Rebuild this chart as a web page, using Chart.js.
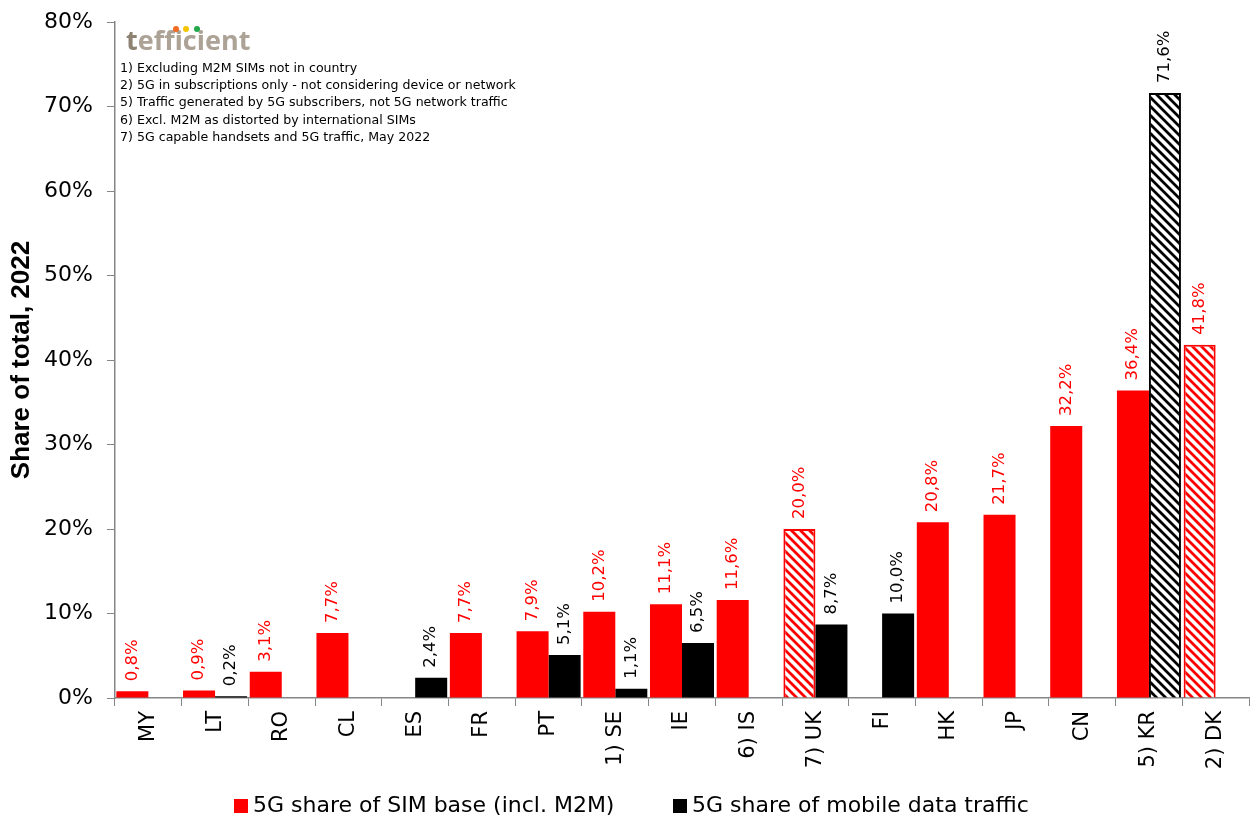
<!DOCTYPE html>
<html>
<head>
<meta charset="utf-8">
<script src="https://cdn.jsdelivr.net/npm/chart.js@4.4.1/dist/chart.umd.min.js"></script>
<style>
  html, body { margin: 0; padding: 0; background: #fff; }
  #wrap { width: 1253px; height: 821px; position: relative; }
</style>
</head>
<body>
<div id="wrap"><canvas id="chart"></canvas></div>
<script>
// data
const categories = ['MY', 'LT', 'RO', 'CL', 'ES', 'FR', 'PT', '1) SE', 'IE', '6) IS', '7) UK', 'FI', 'HK', 'JP', 'CN', '5) KR', '2) DK'];
const simShare = [0.8, 0.9, 3.1, 7.7, null, 7.7, 7.9, 10.2, 11.1, 11.6, 20.0, null, 20.8, 21.7, 32.2, 36.4, 41.8];
const trafficShare = [null, 0.2, null, null, 2.4, null, 5.1, 1.1, 6.5, null, 8.7, 10.0, null, null, null, 71.6, null];
const simHatched = ['7) UK', '2) DK'];
const trafficHatched = ['5) KR'];
const seriesNames = ['5G share of SIM base (incl. M2M)', '5G share of mobile data traffic'];
const yTicks = [0, 10, 20, 30, 40, 50, 60, 70, 80];
const notes = [
    '1) Excluding M2M SIMs not in country',
    '2) 5G in subscriptions only - not considering device or network',
    '5) Traffic generated by 5G subscribers, not 5G network traffic',
    '6) Excl. M2M as distorted by international SIMs',
    '7) 5G capable handsets and 5G traffic, May 2022'
];

const RED = '#ff0000';
const BLACK = '#000000';
const AXIS = '#868686';

// diagonal hatch pattern (white with coloured stripes)
function hatch(color) {
    const n = 9;
    const c = document.createElement('canvas');
    c.width = n; c.height = n;
    const g = c.getContext('2d');
    g.fillStyle = '#fff';
    g.fillRect(0, 0, n, n);
    g.strokeStyle = color;
    g.lineWidth = 2.8;
    g.beginPath();
    g.moveTo(-n, 0); g.lineTo(n, 2 * n);
    g.moveTo(0, 0); g.lineTo(n, n);
    g.moveTo(0, -n); g.lineTo(2 * n, n);
    g.stroke();
    return g.createPattern(c, 'repeat');
}
const redHatch = hatch(RED);
const blackHatch = hatch(BLACK);

const isHatched = (list, ctx) => ctx.type === 'data' && list.includes(categories[ctx.dataIndex]);

// value labels, rotated, above each bar
const valueLabels = {
    id: 'valueLabels',
    afterDatasetsDraw(chart) {
        const ctx = chart.ctx;
        chart.data.datasets.forEach((ds, di) => {
            const meta = chart.getDatasetMeta(di);
            meta.data.forEach((bar, i) => {
                const v = ds.data[i];
                if (v == null) return;
                ctx.save();
                ctx.translate(bar.x, bar.y - 10);
                ctx.rotate(-Math.PI / 2);
                ctx.font = '16.5px "DejaVu Sans"';
                ctx.fillStyle = di === 0 ? RED : BLACK;
                ctx.textAlign = 'left';
                ctx.textBaseline = 'middle';
                ctx.fillText(v.toFixed(1).replace('.', ',') + '%', 0, 0);
                ctx.restore();
            });
        });
    }
};

// logo, footnotes and bottom legend
const extras = {
    id: 'extras',
    afterDraw(chart) {
        const ctx = chart.ctx;
        ctx.save();
        // logo
        ctx.font = 'bold 27px "Open Sans"';
        ctx.textBaseline = 'alphabetic';
        ctx.textAlign = 'left';
        ctx.fillStyle = '#8e8373';
        ctx.fillText('t', 126, 50);
        const tw = ctx.measureText('t').width;
        ctx.fillStyle = '#aca295';
        ctx.fillText('efficient', 126 + tw, 50);
        [['#f26b21', 176], ['#f5c400', 186], ['#22a84a', 197]].forEach(([col, x]) => {
            ctx.fillStyle = col;
            ctx.beginPath();
            ctx.arc(x, 29, 3, 0, Math.PI * 2);
            ctx.fill();
        });
        // footnotes
        ctx.font = '12.6px "DejaVu Sans"';
        ctx.fillStyle = '#000';
        notes.forEach((t, i) => ctx.fillText(t, 120, 72 + i * 17.2));
        // legend
        const items = [[RED, 234], [BLACK, 673]];
        ctx.font = '22px "DejaVu Sans"';
        ctx.textBaseline = 'middle';
        items.forEach(([col, x], i) => {
            ctx.fillStyle = col;
            ctx.fillRect(x, 799, 14, 14);
            ctx.fillStyle = '#000';
            ctx.fillText(seriesNames[i], x + 19, 806);
        });
        ctx.restore();
    }
};

new Chart(document.getElementById('chart'), {
    type: 'bar',
    data: {
        labels: categories,
        datasets: [
            {
                label: seriesNames[0],
                data: simShare,
                backgroundColor: ctx => isHatched(simHatched, ctx) ? redHatch : RED,
                borderColor: RED,
                borderWidth: ctx => isHatched(simHatched, ctx) ? 2 : 0,
                categoryPercentage: 0.96,
                barPercentage: 1
            },
            {
                label: seriesNames[1],
                data: trafficShare,
                backgroundColor: ctx => isHatched(trafficHatched, ctx) ? blackHatch : BLACK,
                borderColor: BLACK,
                borderWidth: ctx => isHatched(trafficHatched, ctx) ? 2 : 0,
                categoryPercentage: 0.96,
                barPercentage: 1
            }
        ]
    },
    options: {
        responsive: true,
        maintainAspectRatio: false,
        animation: false,
        layout: { padding: { top: 22, right: 4, bottom: 40, left: 0 } },
        scales: {
            x: {
                grid: { display: true, drawOnChartArea: false, drawTicks: true, tickLength: 8, color: AXIS, offset: true },
                border: { color: AXIS, width: 1.5 },
                ticks: {
                    color: '#000',
                    font: { family: '"DejaVu Sans"', size: 21 },
                    minRotation: 90,
                    maxRotation: 90,
                    padding: 5,
                    autoSkip: false
                },
                afterFit: s => { s.height = 83; }
            },
            y: {
                min: 0,
                max: 80,
                afterBuildTicks: s => { s.ticks = yTicks.map(v => ({ value: v })); },
                grid: { display: true, drawOnChartArea: false, drawTicks: true, tickLength: 8, color: AXIS },
                border: { color: AXIS, width: 1.5 },
                ticks: {
                    color: '#000',
                    font: { family: '"DejaVu Sans"', size: 22 },
                    padding: 14,
                    callback: v => v + '%'
                },
                title: {
                    display: true,
                    text: 'Share of total, 2022',
                    color: '#000',
                    font: { family: '"Liberation Sans"', size: 26, weight: 'bold' },
                    padding: { top: 6, bottom: 0 }
                },
                afterFit: s => { s.width = 115; s.paddingTop = 0; s.paddingBottom = 0; }
            }
        },
        plugins: {
            legend: { display: false },
            tooltip: { enabled: false }
        }
    },
    plugins: [valueLabels, extras]
});
</script>
</body>
</html>
